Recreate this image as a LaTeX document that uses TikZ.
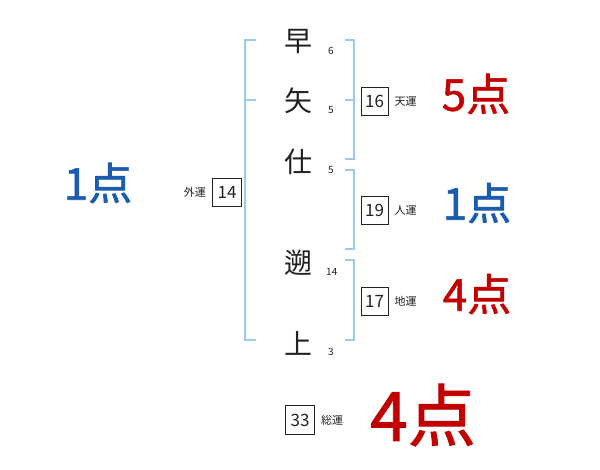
\documentclass[tikz,border=0pt]{standalone}
\usepackage{fontspec}
\setmainfont{Noto Sans CJK JP}
\newfontfamily\scorefont{Noto Sans CJK JP}[FakeBold=1.3]
\usetikzlibrary{positioning}
\definecolor{kInk}{HTML}{222222}
\definecolor{kBrace}{HTML}{9FCBEA}
\definecolor{kRed}{HTML}{C20000}
\definecolor{kBlue}{HTML}{1A5CB0}

\begin{document}
\begin{tikzpicture}[
  x=1pt, y=-1pt, text=kInk,
  node distance=6pt,
  kanji/.style={inner sep=0pt, font=\fontsize{28}{28}\selectfont},
  strokes/.style={inner sep=0pt, anchor=west, font=\fontsize{10}{10}\selectfont},
  numbox/.style={draw=kInk, line width=0.7pt, minimum width=27pt, minimum height=28pt,
                 inner sep=0pt, font=\fontsize{17}{17}\selectfont},
  unsei/.style={inner sep=0pt, font=\fontsize{11}{11}\selectfont},
  score/.style={inner sep=0pt, font=\fontsize{44}{44}\selectfont\scorefont},
  brace/.style={draw=kBrace, line width=1.8pt},
]
\fill[white] (0,0) rectangle (600,470);
\useasboundingbox (0,0) rectangle (600,470);

% name, one character per row
\node[kanji] (c1) at (298,42) {早};
\node[kanji] (c2) at (298,101) {矢};
\node[kanji] (c3) at (298,162) {仕};
\node[kanji] (c4) at (298,263) {遡};
\node[kanji] (c5) at (298,343) {上};

% stroke counts
\node[strokes] (s1) at (328,51) {6};
\node[strokes] (s2) at (328,110) {5};
\node[strokes] (s3) at (328,170) {5};
\node[strokes] (s4) at (326,272) {14};
\node[strokes] (s5) at (328,352) {3};

% brackets
\draw[brace] (256,40) -- (245,40) -- (245,340) -- (256,340);
\draw[brace] (245,100) -- (256,100);
\draw[brace] (345,40) -- (354,40) -- (354,159) -- (345,159);
\draw[brace] (345,100) -- (354,100);
\draw[brace] (345,170) -- (354,170) -- (354,249) -- (345,249);
\draw[brace] (345,260) -- (354,260) -- (354,340) -- (345,340);

% sums
\node[numbox] (ten) at (374.5,101.5) {16};
\node[unsei, right=of ten] (tenL) {天運};
\node[numbox] (jin) at (374.5,210.5) {19};
\node[unsei, right=of jin] (jinL) {人運};
\node[numbox] (chi) at (374.5,301) {17};
\node[unsei, right=of chi] (chiL) {地運};
\node[numbox, minimum width=29pt] (gai) at (227,192) {14};
\node[unsei, left=of gai] (gaiL) {外運};
\node[numbox, minimum width=29pt, minimum height=29pt] (sou) at (300,420) {33};
\node[unsei, right=of sou] (souL) {総運};

% scores
\node[score, text=kRed] (tenP) at (476,94) {5点};
\node[score, text=kBlue] (jinP) at (477,203) {1点};
\node[score, text=kRed] (chiP) at (477,294) {4点};
\node[score, text=kBlue] (gaiP) at (98,183) {1点};
\node[score, text=kRed, font=\fontsize{68}{68}\selectfont\scorefont] (souP) at (423,415) {4点};

\end{tikzpicture}
\end{document}
